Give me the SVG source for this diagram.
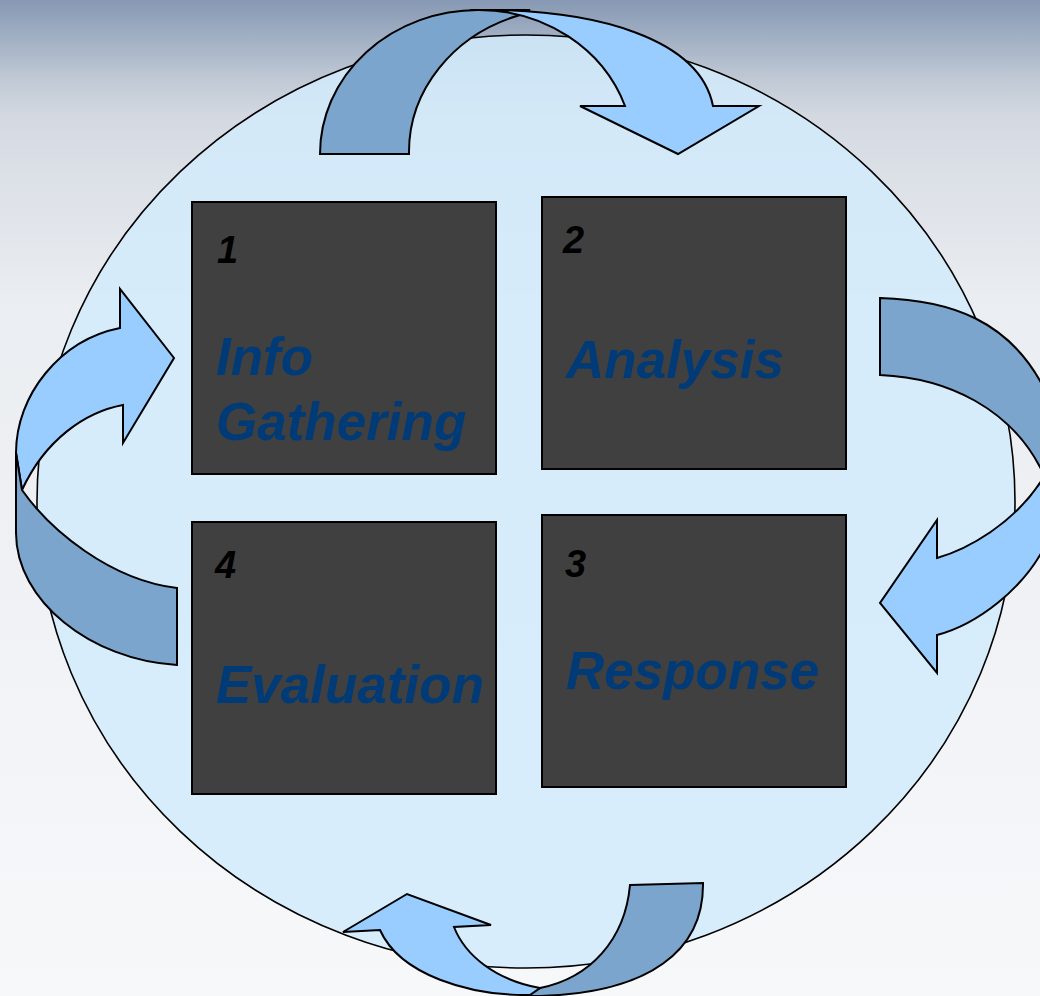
<svg xmlns="http://www.w3.org/2000/svg" width="1040" height="996" viewBox="0 0 1040 996">
  <defs>
    <linearGradient id="bg" x1="0" y1="0" x2="0" y2="1">
      <stop offset="0" stop-color="#8698b3"/>
      <stop offset="0.04" stop-color="#a3b1c5"/>
      <stop offset="0.08" stop-color="#c0c9d5"/>
      <stop offset="0.12" stop-color="#d5dae2"/>
      <stop offset="0.3" stop-color="#eaedf1"/>
      <stop offset="1" stop-color="#f7f8fa"/>
    </linearGradient>
    <style>
      .box { fill: #404040; stroke: #000; stroke-width: 2; }
      .num { font-family: "Liberation Sans", Arial, sans-serif; font-weight: bold; font-style: italic; font-size: 38px; fill: #000; }
      .lbl { font-family: "Liberation Sans", Arial, sans-serif; font-weight: bold; font-style: italic; font-size: 53px; fill: #003b77; }
      .dark { fill: #7ba5cd; stroke: #000; stroke-width: 2; stroke-linejoin: miter; }
      .light { fill: #99ccff; stroke: #000; stroke-width: 2; stroke-linejoin: miter; }
    </style>
  </defs>

  <rect x="0" y="0" width="1040" height="996" fill="url(#bg)"/>

  <ellipse id="circle" cx="526" cy="501.5" rx="489" ry="466.5" fill="#d2ebfc" fill-opacity="0.85" stroke="#000" stroke-width="1.6"/>

  <g id="node-1">
    <rect class="box" x="192" y="202" width="304" height="272"/>
    <text class="num" x="217" y="263">1</text>
    <text class="lbl" x="216" y="375">Info</text>
    <text class="lbl" x="216" y="440">Gathering</text>
  </g>
  <g id="node-2">
    <rect class="box" x="542" y="197" width="304" height="272"/>
    <text class="num" x="563" y="253">2</text>
    <text class="lbl" x="566" y="378">Analysis</text>
  </g>
  <g id="node-3">
    <rect class="box" x="542" y="515" width="304" height="272"/>
    <text class="num" x="565" y="577">3</text>
    <text class="lbl" x="566" y="689">Response</text>
  </g>
  <g id="node-4">
    <rect class="box" x="192" y="522" width="304" height="272"/>
    <text class="num" x="215" y="578">4</text>
    <text class="lbl" x="216" y="703">Evaluation</text>
  </g>

  <g id="connectors">
    <!-- top: 1 -> 2 -->
    <g id="arrow-top">
      <path class="dark" d="M 320,154 A 158 144 0 0 1 478,10 L 530,10 L 520,15 A 160 144 0 0 0 409,154 Z"/>
      <path class="light" d="M 470,10 C 600,8 700,40 713,106 L 759,106 L 678,154 L 580,106 L 625,106 A 155 144 0 0 0 478,10 Z"/>
    </g>
    <!-- right: 2 -> 3 -->
    <g id="arrow-right">
      <path class="dark" d="M 880,298 C 950,300 1010,320 1045,390 L 1070,460 L 1070,510 L 1052,492 L 1040,467 C 1010,410 950,378 880,375 Z"/>
      <path class="light" d="M 937,558 C 965,550 1015,525 1045,475 L 1070,440 L 1070,520 L 1048,540 C 1025,590 975,625 937,635 L 937,673 L 880,603 L 937,520 Z"/>
    </g>
    <!-- bottom: 3 -> 4 -->
    <g id="arrow-bottom">
      <path class="dark" d="M 630,885 L 703,883 C 704,950 650,993 540,996 L 520,996 L 540,988 C 590,978 625,940 630,885 Z"/>
      <path class="light" d="M 454,927 C 465,955 495,980 540,988 L 530,995 C 470,996 400,975 380,930 L 343,932 L 407,894 L 491,925 Z"/>
    </g>
    <!-- left: 4 -> 1 -->
    <g id="arrow-left">
      <path class="light" d="M 120,328 L 120,289 L 174,358 L 123,443 L 123,405 C 85,412 45,440 22,490 L 16,453 C 16,395 60,340 120,328 Z"/>
      <path class="dark" d="M 16,453 L 16,533 C 16,600 90,660 177,665 L 177,588 C 110,580 50,530 22,490 Z"/>
    </g>
  </g>
</svg>
